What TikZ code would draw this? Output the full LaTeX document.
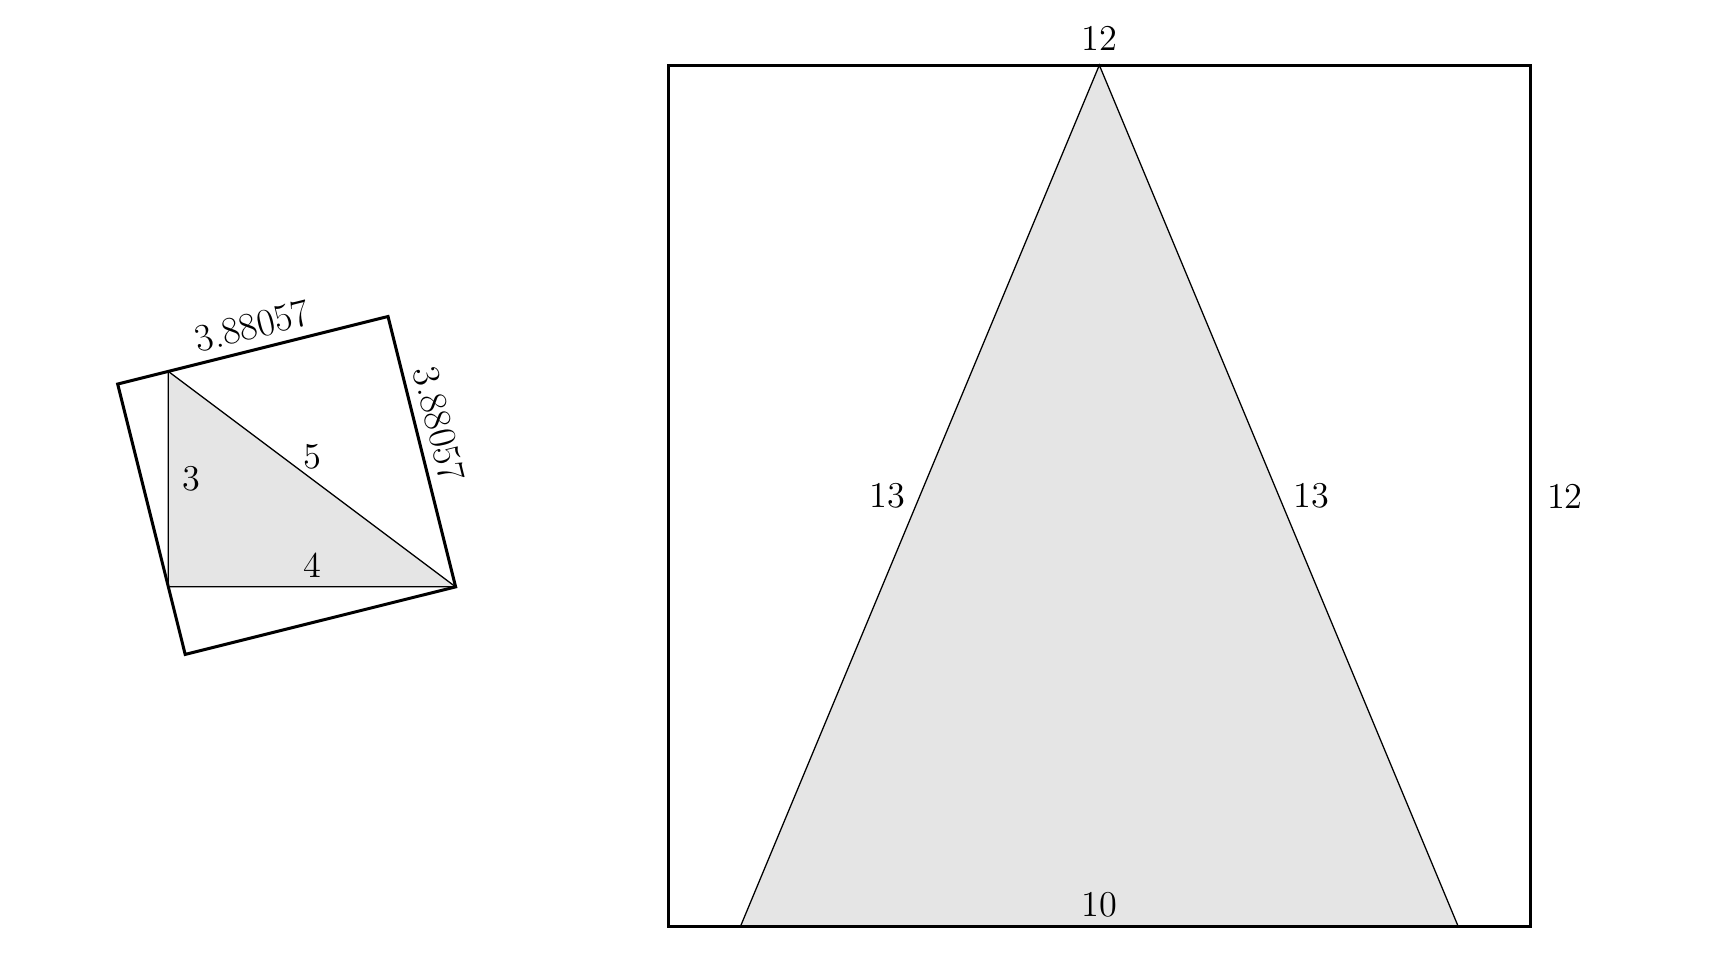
\documentclass[tikz,border=0pt]{standalone}
\usepackage{tikz}
\usetikzlibrary{calc}
\tikzset{
  thinline/.style={line width=0.5pt},
  squareline/.style={line width=1.2pt, line join=miter},
  lbl/.style={font=\fontsize{14.4}{17}\selectfont, inner sep=3.5pt},
  sidelbl/.style={lbl, font=\fontsize{15.4}{18}\selectfont}
}

\begin{document}
\begin{tikzpicture}
  \useasboundingbox (0,0) rectangle (24.09,13.51);

  % 3-4-5 triangle with the square round it
  \begin{scope}[shift={(2.344,5.338)}]
    \def\side{3.88057}
    \coordinate (B) at (0,0);
    \coordinate (A) at (0,3);
    \coordinate (C) at (4,0);
    \coordinate (D) at ($(C)+(194.036:\side)$);
    \coordinate (E) at ($(C)+(104.036:\side)$);
    \coordinate (F) at ($(D)+(104.036:\side)$);

    \fill[gray!20] (A) -- (B) -- (C) -- cycle;
    \draw[thinline] (A) -- node[lbl,right=2pt] {3} (B)
      -- node[lbl,above] {4} (C) -- node[lbl,above] {5} (A);

    % enclosing square
    \draw[squareline] (F) -- node[sidelbl,above,sloped,pos=0.52] {3.88057} (E)
      -- node[sidelbl,above,sloped,pos=0.42] {3.88057} (C) -- (D) -- cycle;
  \end{scope}

  % 10-13-13 triangle in the 12 by 12 square
  \begin{scope}[shift={(9.308,0.603)}]
    \coordinate (P1) at (0,0);
    \coordinate (P2) at (12,0);
    \coordinate (P3) at (12,12);
    \coordinate (L) at (1,0);
    \coordinate (R) at (11,0);
    \coordinate (T) at (6,12);

    \fill[gray!20] (L) -- (R) -- (T) -- cycle;
    \draw[thinline] (L) -- node[lbl,left=2pt] {13} (T)
      -- node[lbl,right=2pt] {13} (R);
    \node[lbl,above] at ($(L)!0.5!(R)$) {10};

    \draw[squareline] (P1) rectangle (P3);
    \path (P2) -- node[lbl,right=3pt] {12} (P3);
    \node[lbl,above=2pt] at (T) {12};
  \end{scope}
\end{tikzpicture}
\end{document}
